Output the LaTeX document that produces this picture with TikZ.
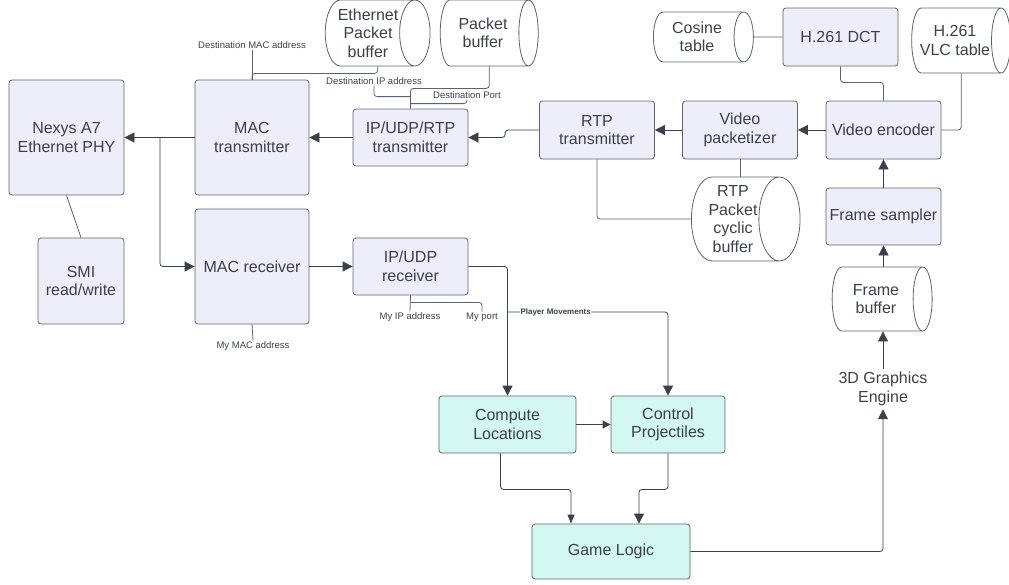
\documentclass[tikz,border=0pt]{standalone}
\usepackage{fontspec}
\setmainfont{Liberation Sans}
\usetikzlibrary{shapes.geometric,arrows.meta}
\definecolor{boxfill}{HTML}{EEEEFA}
\definecolor{gamefill}{HTML}{D3F7F1}
\definecolor{edge}{HTML}{5F6368}
\definecolor{ink}{HTML}{3A414A}
\begin{document}
\begin{tikzpicture}[x=1pt, y=-1pt,
		block/.style={draw=edge, fill=boxfill, rounded corners=3pt, line width=0.8pt, align=center, text=ink,
			font=\fontsize{16}{18.5}\selectfont, minimum width=115pt, minimum height=58pt, inner sep=2pt},
		game/.style={block, fill=gamefill},
		% the cylinder counts its height along the axis, so width and height swap here
		store/.style 2 args={cylinder, shape border rotate=0, shape aspect=0.6, draw=edge, fill=white, line width=0.8pt,
			align=center, text=ink, font=\fontsize{16}{18.5}\selectfont, inner sep=1pt,
			minimum height=#1, minimum width=#2},
		tag/.style={text=ink, font=\fontsize{9.5}{11}\selectfont, inner sep=1pt},
		wire/.style={draw=edge, line width=0.8pt, rounded corners=3pt},
		arr/.style={wire, -{Triangle[length=10pt,width=10pt]}, ink}]
	\useasboundingbox (0,0) rectangle (1009,584);

	\node [block, minimum width=115pt, minimum height=115pt] (phy) at (66.5,137.5) {Nexys A7\\Ethernet PHY};
	\node [block, minimum width=86pt, minimum height=86pt] (smi) at (81,281) {SMI\\read/write};
	\node [block, minimum width=114pt, minimum height=115pt] (mactx) at (252,137.5) {MAC\\transmitter};
	\node [block, minimum width=114pt, minimum height=115pt] (macrx) at (252,266.5) {MAC receiver};
	\node [block, minimum height=57pt] (iptx) at (410.5,137.5) {IP/UDP/RTP\\transmitter};
	\node [block, minimum height=57pt] (iprx) at (410.5,266.5) {IP/UDP\\receiver};
	\node [block] (rtptx) at (597,130) {RTP\\transmitter};
	\node [block] (vpack) at (740,130) {Video\\packetizer};
	\node [block] (venc) at (883.5,130) {Video encoder};
	\node [block] (dct) at (840.5,37) {H.261 DCT};
	\node [block, minimum height=57pt] (fsamp) at (883.5,216.5) {Frame sampler};

	\node [store={100pt}{66pt}] (ethbuf) at (368,33) {Ethernet\\Packet\\buffer};
	\node [store={98pt}{66pt}] (pktbuf) at (483,33) {Packet\\buffer};
	\node [store={100pt}{50pt}] (costab) at (697,37) {Cosine\\table};
	\node [store={97pt}{65pt}] (vlctab) at (955,40.5) {H.261\\VLC table};
	\node [store={100pt}{84pt}] (rtpbuf) at (733,219) {RTP\\Packet\\cyclic\\buffer};
	\node [store={100pt}{64pt}] (fbuf) at (876,299) {Frame\\buffer};

	\node [align=center, text=ink, font=\fontsize{16}{18.5}\selectfont] (gfx) at (883,389) {3D Graphics\\Engine};

	\node [game, minimum width=137pt, minimum height=57pt] (comp) at (507.5,424.5) {Compute\\Locations};
	\node [game, minimum width=114pt, minimum height=57pt] (ctrl) at (668,424.5) {Control\\Projectiles};
	\node [game, minimum width=158pt, minimum height=55pt] (logic) at (611,551.5) {Game Logic};

	\node [tag] (dmac) at (252,45) {Destination MAC address};
	\node [tag] (dip) at (374,81) {Destination IP address};
	\node [tag] (dport) at (467,95) {Destination Port};
	\node [tag] (mymac) at (253,346) {My MAC address};
	\node [tag] (myip) at (410,317) {My IP address};
	\node [tag] (myport) at (482,317) {My port};

	\coordinate (split) at (160,137.5);

	% transmit chain
	\draw [arr] (mactx.west) -- (phy.east);
	\draw [arr] (split) |- (macrx.west);
	\draw [arr] (iptx.west) -- (mactx.east);
	\draw [arr] (rtptx.west) -- ++(-34,0) |- (iptx.east);
	\draw [arr] (vpack.west) -- (rtptx.east);
	\draw [arr] (venc.west) -- (vpack.east);
	\draw [arr] (fsamp.north) -- (venc.south);
	\draw [arr] (fbuf.north -| fsamp.south) -- (fsamp.south);
	\draw [arr] (gfx.north) -- (fbuf.south -| gfx.north);
	\draw [arr] (logic.east) -| (gfx.south);

	% receive chain
	\draw [arr] (macrx.east) -- (iprx.west);
	\draw [arr] (iprx.east) -| (comp.north);
	\draw [arr] (comp.north |- 0,312) -| (ctrl.north)
		node [pos=0.15, fill=white, inner sep=0.5pt, text=ink, font=\bfseries\fontsize{8}{9}\selectfont] {Player Movements};
	\draw [arr, -{Triangle[length=8pt,width=8pt]}] (comp.east) -- (ctrl.west);
	\draw [arr, -{Triangle[length=9pt,width=7pt]}] ([xshift=-7pt]comp.south) -- ++(0,36) -| ([xshift=-40pt]logic.north);
	\draw [arr] (ctrl.south) -- ++(0,36) -| ([xshift=28pt]logic.north);

	% plain links
	\draw [wire] (phy.south) -- (smi.north);
	\draw [wire] (ethbuf.shape center |- ethbuf.south) -- ++(0,7) -| (mactx.north);
	\draw [wire] (mactx.north) -- (dmac.south);
	\draw [wire] (pktbuf.shape center |- pktbuf.south) -- ++(0,22) -| (iptx.north);
	\draw [wire] ([yshift=12pt]iptx.north) -| (dip.south);
	\draw [wire] ([yshift=5pt]iptx.north) -| (dport.south);
	\draw [wire] (macrx.south) -- (mymac.north);
	\draw [wire] (iprx.south) -- (myip.north);
	\draw [wire] ([yshift=-7pt]iprx.south) -| (myport.north);
	\draw [wire] (rtptx.south) |- (rtpbuf.west);
	\draw [wire] (vpack.south) -- (vpack.south |- rtpbuf.north);
	\draw [wire] (costab.east) -- (dct.west);
	\draw [wire] (dct.south) -- ++(0,16) -| (venc.north);
	\draw [wire] (vlctab.shape center |- vlctab.south) |- (venc.east);
\end{tikzpicture}
\end{document}
